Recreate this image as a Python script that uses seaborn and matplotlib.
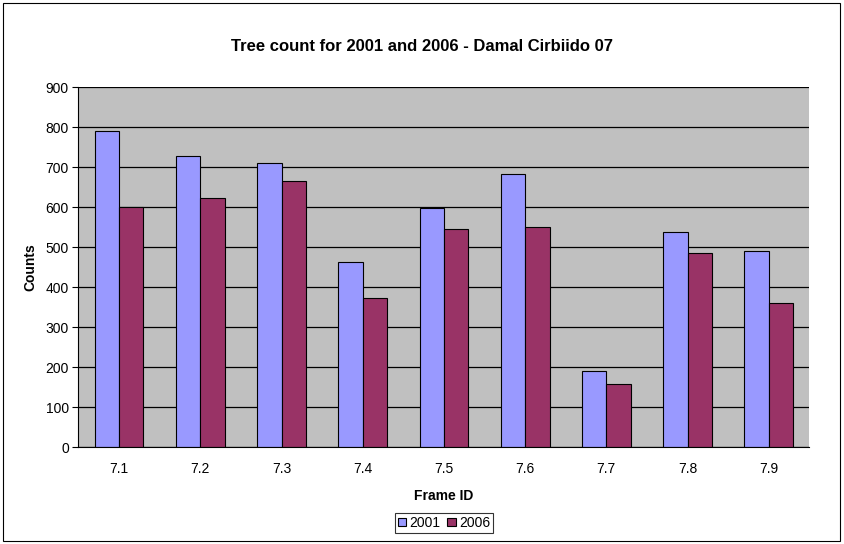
import seaborn as sns
import matplotlib.pyplot as plt
import pandas as pd
from matplotlib.patches import Rectangle

# data
frames = ["7.1", "7.2", "7.3", "7.4", "7.5", "7.6", "7.7", "7.8", "7.9"]
count_2001 = [789, 728, 709, 464, 597, 682, 190, 537, 489]
count_2006 = [600, 622, 665, 374, 544, 551, 157, 484, 360]

df = pd.DataFrame({
    "Frame ID": frames * 2,
    "Counts": count_2001 + count_2006,
    "Year": ["2001"] * len(frames) + ["2006"] * len(frames),
})

sns.set_style("white")
plt.rcParams["font.family"] = ["Liberation Sans", "DejaVu Sans"]
plt.rcParams["text.color"] = "black"
plt.rcParams["axes.labelcolor"] = "black"
plt.rcParams["xtick.color"] = "black"
plt.rcParams["ytick.color"] = "black"

fig = plt.figure(figsize=(8.44, 5.44), dpi=100)
ax = fig.add_axes([0.093, 0.178, 0.866, 0.662])
ax.set_facecolor("#C0C0C0")

sns.barplot(data=df, x="Frame ID", y="Counts", hue="Year",
            palette=["#9999FF", "#993366"], width=0.6,
            edgecolor="black", linewidth=0.8, saturation=1, ax=ax)

ax.set_ylim(0, 900)
ax.set_xlim(-0.5, len(frames) - 0.5)
ax.set_yticks(range(0, 901, 100))
ax.yaxis.grid(True, color="black", linewidth=0.9)
ax.set_axisbelow(True)

# excel-style ticks between categories
ax.set_xticks([i + 0.5 for i in range(-1, len(frames))], minor=True)
ax.tick_params(axis="x", which="major", length=0, labelsize=10, pad=11)
ax.tick_params(axis="x", which="minor", length=4, color="black", direction="out")
ax.tick_params(axis="y", length=4, color="black", direction="out", labelsize=10,
               pad=3, left=True)

for side in ["top", "right"]:
    ax.spines[side].set_visible(False)
ax.spines["left"].set_color("black")
ax.spines["bottom"].set_color("black")

# chart title is centred on the whole chart area, not the plot area
fig.text(0.5, 0.914, "Tree count for 2001 and 2006 - Damal Cirbiido 07",
         fontsize=12, fontweight="bold", ha="center", va="center")
ax.set_xlabel("Frame ID", fontsize=10, fontweight="bold", labelpad=9)
ax.set_ylabel("Counts", fontsize=10, fontweight="bold", labelpad=6)

leg = ax.legend(loc="upper center", bbox_to_anchor=(0.5, -0.183), ncol=2,
                fontsize=10, frameon=True, fancybox=False, borderpad=0.2,
                handlelength=0.6, handleheight=0.6, handletextpad=0.25,
                columnspacing=0.5, borderaxespad=0)
leg.get_frame().set_edgecolor("black")
leg.get_frame().set_linewidth(0.8)

# outer chart border
fig.patches.append(Rectangle((0.004, 0.006), 0.991, 0.989, transform=fig.transFigure,
                             fill=False, edgecolor="black", linewidth=0.8))

fig.savefig("out.png", dpi=100)
